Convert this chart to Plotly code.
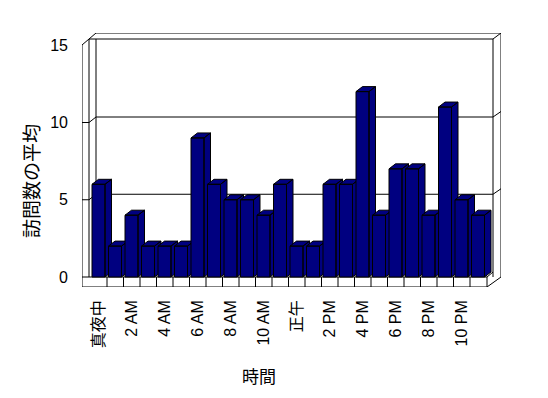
import plotly.graph_objects as go

# ---- data ----
hours = ["真夜中", "1 AM", "2 AM", "3 AM", "4 AM", "5 AM", "6 AM", "7 AM", "8 AM", "9 AM",
         "10 AM", "11 AM", "正午", "1 PM", "2 PM", "3 PM", "4 PM", "5 PM", "6 PM", "7 PM",
         "8 PM", "9 PM", "10 PM", "11 PM"]
visits = [6, 2, 4, 2, 2, 2, 9, 6, 5, 5, 4, 6, 2, 2, 6, 6, 12, 4, 7, 7, 4, 11, 5, 4]
y_ticks = [0, 5, 10, 15]
x_tick_idx = list(range(0, 24, 2))
x_tick_labels = [hours[i] for i in x_tick_idx]
y_title = "訪問数の平均"
x_title = "時間"

# ---- geometry (pixels) ----
W, H = 548, 398
ML, MR, MT, MB = 82, 47, 33, 111
PW, PH = W - ML - MR, H - MT - MB
PXU = 16.5          # px per category
PYV = 15.45         # px per value unit
X0 = -(98.75 - ML) / PXU
X1 = X0 + PW / PXU
Y0 = -(287 - 277) / PYV
Y1 = Y0 + PH / PYV


def px2x(p):
    return X0 + (p - ML) / PXU


def py2y(p):
    return Y0 + (H - MB - p) / PYV


NAVY = "#000080"
fl, fr = -6.75 / PXU, 6.25 / PXU      # bar front face offsets
dx, dy = 6.5 / PXU, 5.0 / PYV          # bar depth

fig = go.Figure()
for i, v in enumerate(visits):
    l, r = i + fl, i + fr
    xs = [r, r + dx, r + dx, r, r, None,
          l, l + dx, r + dx, r, l, None,
          l, r, r, l, l]
    ys = [0, dy, v + dy, v, 0, None,
          v, v + dy, v + dy, v, v, None,
          0, 0, v, v, 0]
    fig.add_trace(go.Scatter(x=xs, y=ys, mode="lines", fill="toself",
                             fillcolor=NAVY, line=dict(color="black", width=1),
                             hoverinfo="skip", showlegend=False))

shapes = []


def pline(x0, y0, x1, y1):
    shapes.append(dict(type="line", xref="x", yref="y",
                       x0=px2x(x0), y0=py2y(y0), x1=px2x(x1), y1=py2y(y1),
                       line=dict(color="black", width=1), layer="below"))


# frame
pline(82, 45, 82, 287)
pline(89, 39, 89, 277)
pline(82, 45, 89, 39)
pline(89, 39, 96, 33)
pline(96, 33, 501, 33)
pline(89, 39, 493, 39)
pline(96, 39, 96, 277)
pline(493, 39, 493, 277)
pline(501, 33, 501, 277)
pline(493, 39, 501, 33)
pline(82, 287, 487, 287)
pline(82, 277, 487, 277)
pline(487, 277, 487, 287)
pline(487, 287, 501, 277)
pline(487, 277, 493, 272)

# gridlines
for v in y_ticks[1:-1]:
    yf = 277 - PYV * v
    yb = yf - 5.5
    pline(82, yf, 89, yf)
    pline(89, yf, 96, yb)
    pline(96, yb, 493, yb)
    pline(493, yb, 501, yb - 5.5)

# floor separators
for i in range(len(hours) - 1):
    shapes.append(dict(type="line", xref="x", yref="y", x0=i + 0.5, x1=i + 0.5,
                       y0=0, y1=Y0, line=dict(color="black", width=1), layer="below"))

FONT = "Liberation Sans, Arial, Noto Sans CJK JP"

fig.update_layout(
    width=W, height=H, autosize=False,
    margin=dict(l=ML, r=MR, t=MT, b=MB, pad=0),
    paper_bgcolor="white", plot_bgcolor="white",
    shapes=shapes,
    font=dict(family=FONT, color="black", size=15),
    xaxis=dict(range=[X0, X1], showgrid=False, zeroline=False, showline=False,
               tickmode="array", tickvals=x_tick_idx, ticktext=x_tick_labels,
               tickangle=-90, ticks="", ticklabelstandoff=9,
               tickfont=dict(size=16, family=FONT, color="black"), fixedrange=True,
               automargin=False),
    yaxis=dict(range=[Y0, Y1], showgrid=False, zeroline=False, showline=False,
               tickmode="array", tickvals=y_ticks, ticks="", ticklabelstandoff=13,
               tickfont=dict(size=16, family=FONT, color="black"), fixedrange=True,
               automargin=False),
    annotations=[
        dict(text=y_title, xref="paper", yref="paper",
             x=(30 - ML) / PW, y=(H - MB - 181) / PH, showarrow=False,
             textangle=-90, font=dict(size=19, family="Noto Sans CJK JP", color="black"),
             xanchor="center", yanchor="middle"),
        dict(text=x_title, xref="paper", yref="paper",
             x=(259 - ML) / PW, y=(H - MB - 375) / PH, showarrow=False,
             font=dict(size=17, family="Noto Sans CJK JP", color="black"),
             xanchor="center", yanchor="middle"),
    ],
)

fig.write_html("out.html", config={"displayModeBar": False},
               post_script="document.body.style.margin='0';document.body.style.padding='0';")
